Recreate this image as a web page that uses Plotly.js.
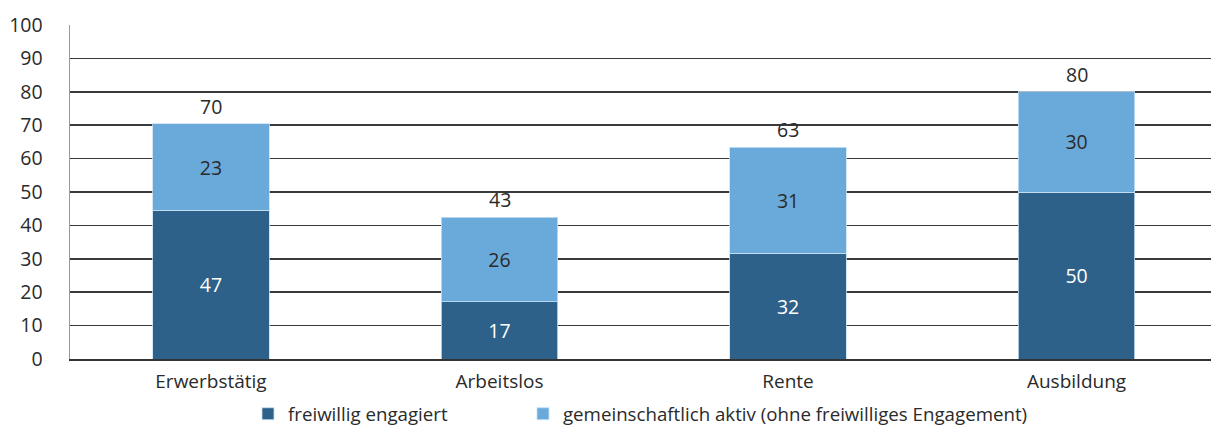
<!DOCTYPE html>
<html>
<head>
<meta charset="utf-8">
<script src="https://cdn.plot.ly/plotly-3.0.1.min.js"></script>
<style>html,body{margin:0;padding:0;background:#fff;}#chart{width:1211px;height:427px;}</style>
</head>
<body>
<div id="chart"></div>
<script>
const categories = ["Erwerbstätig", "Arbeitslos", "Rente", "Ausbildung"];
// drawn bar heights
const freiwilligValues = [44.5, 17.2, 31.6, 50];
const gemeinschaftValues = [25.9, 25.3, 31.8, 30];
// printed labels
const freiwilligLabels = ["47", "17", "32", "50"];
const gemeinschaftLabels = ["23", "26", "31", "30"];
const totalLabels = ["70", "43", "63", "80"];
const seriesNames = ["freiwillig engagiert", "gemeinschaftlich aktiv (ohne freiwilliges Engagement)"];
const yTicks = [0, 10, 20, 30, 40, 50, 60, 70, 80, 90, 100];

const darkColor = "#2e6189";
const lightColor = "#6aaadb";
const fontFam = "Open Sans";
const valueSize = 19.5;

const totals = freiwilligValues.map((v, i) => v + gemeinschaftValues[i]);

const traces = [
  {
    type: "bar", x: categories, y: freiwilligValues, name: seriesNames[0],
    marker: {color: darkColor, line: {color: "rgba(200,225,245,0.8)", width: 1}},
    width: 0.405, legend: "legend",
    text: freiwilligLabels, textposition: "inside", insidetextanchor: "middle",
    textfont: {color: "#ffffff", size: valueSize, family: fontFam},
    hoverinfo: "skip"
  },
  {
    type: "bar", x: categories, y: gemeinschaftValues, name: seriesNames[1],
    marker: {color: lightColor, line: {color: "rgba(200,225,245,0.8)", width: 1}},
    width: 0.405, legend: "legend2",
    text: gemeinschaftLabels, textposition: "inside", insidetextanchor: "middle",
    textfont: {color: "#2a2a2a", size: valueSize, family: fontFam},
    hoverinfo: "skip"
  }
];

const totalAnnotations = categories.map((c, i) => ({
  x: c, y: totals[i], xref: "x", yref: "y", text: totalLabels[i],
  showarrow: false, yanchor: "bottom", yshift: 2,
  font: {color: "#2a2a2a", size: valueSize, family: fontFam}
}));

const legendFont = {size: 18.7, family: fontFam, color: "#2a2a2a"};
const layout = {
  width: 1211, height: 427,
  margin: {l: 70, r: 0, t: 25, b: 68, autoexpand: false},
  paper_bgcolor: "#fff", plot_bgcolor: "#fff",
  barmode: "stack",
  font: {family: fontFam, color: "#2a2a2a", size: 17},
  annotations: totalAnnotations,
  xaxis: {
    type: "category", range: [-0.4887, 3.466],
    showgrid: false, showline: true, linecolor: "#333", linewidth: 1.5,
    ticks: "", tickfont: {size: 19, family: fontFam, color: "#2a2a2a"},
    ticklabelstandoff: 5, zeroline: false, fixedrange: true
  },
  yaxis: {
    range: [0, 100], tickvals: yTicks, ticktext: yTicks.map(String),
    showgrid: true, gridcolor: "#3a3a3a", gridwidth: 1.5,
    showline: true, linecolor: "#999", linewidth: 1.5,
    zeroline: false, ticks: "", ticklabelstandoff: 22,
    tickfont: {size: 19.5, family: fontFam, color: "#2a2a2a"}, fixedrange: true
  },
  showlegend: true,
  legend: {
    orientation: "h", x: 0.156, xanchor: "left", y: -0.108, yanchor: "top",
    font: legendFont, itemwidth: 30, bgcolor: "rgba(0,0,0,0)"
  },
  legend2: {
    orientation: "h", x: 0.397, xanchor: "left", y: -0.108, yanchor: "top",
    font: legendFont, itemwidth: 30, bgcolor: "rgba(0,0,0,0)"
  }
};

Plotly.newPlot("chart", traces, layout, {displayModeBar: false, staticPlot: true});
</script>
</body>
</html>
